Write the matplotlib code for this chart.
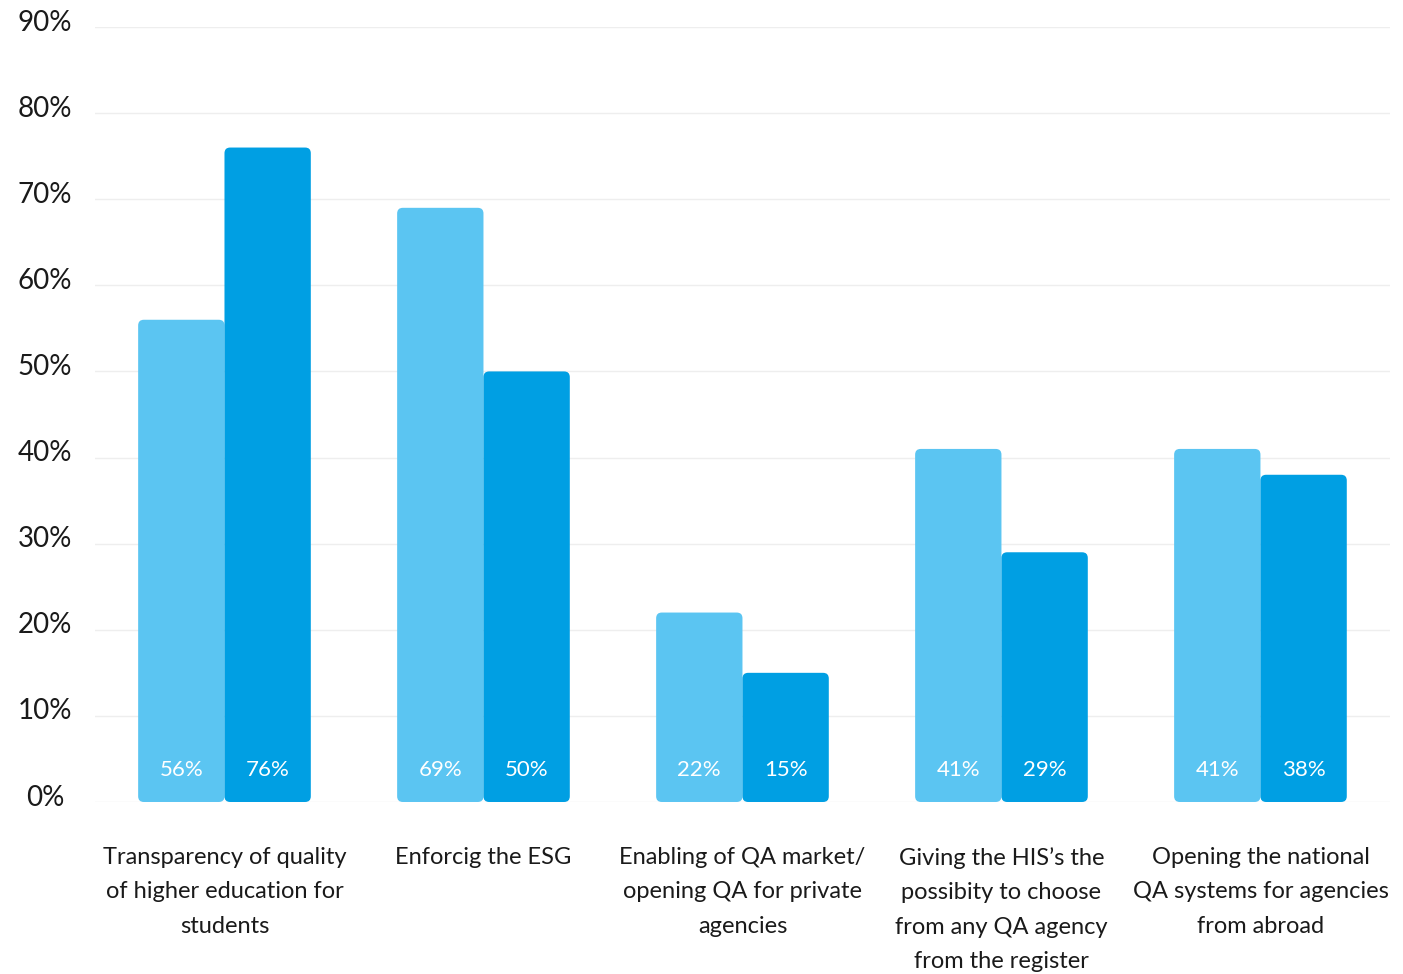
import numpy as np
import matplotlib.pyplot as plt
import matplotlib.transforms as mtransforms
from matplotlib.patches import FancyBboxPatch

categories = [
    "Transparency of quality\nof higher education for\nstudents",
    "Enforcig the ESG",
    "Enabling of QA market/\nopening QA for private\nagencies",
    "Giving the HIS\u2019s the\npossibity to choose\nfrom any QA agency\nfrom the register",
    "Opening the national\nQA systems for agencies\nfrom abroad",
]
series_a = [56, 69, 22, 41, 41]
series_b = [76, 50, 15, 29, 38]
yticks = [0, 10, 20, 30, 40, 50, 60, 70, 80, 90]

light = "#5BC5F2"
dark = "#009FE3"

plt.rcParams['font.family'] = ['Lato', 'DejaVu Sans']

fig = plt.figure(figsize=(14.03, 9.74), dpi=100)
ax = fig.add_axes([0.0677, 0.1766, 0.923, 0.7957])

x = np.arange(len(categories))
w = 1 / 3

bars_a = ax.bar(x - w / 2, series_a, w, color=light)
bars_b = ax.bar(x + w / 2, series_b, w, color=dark)

# swap the plain rectangles for rounded ones
for bars, col in [(bars_a, light), (bars_b, dark)]:
    for b in bars:
        b.set_visible(False)
        p = FancyBboxPatch((b.get_x(), b.get_y()), b.get_width(), b.get_height(),
                           boxstyle="round,pad=0,rounding_size=0.022",
                           mutation_aspect=30, facecolor=col, edgecolor="none",
                           zorder=3)
        ax.add_patch(p)

for xi, va, vb in zip(x, series_a, series_b):
    ax.text(xi - w / 2, 3.7, f"{va}%", color="white", ha="center", va="center",
            fontsize=16, zorder=4)
    ax.text(xi + w / 2, 3.7, f"{vb}%", color="white", ha="center", va="center",
            fontsize=16, zorder=4)

for xi, lab in zip(x, categories):
    ax.text(xi, -5.25, lab, ha="center", va="top", fontsize=17,
            linespacing=1.78, color="#1a1a1a")

ax.set_xlim(-0.5, 4.5)
ax.set_ylim(0, 90)
ax.set_xticks([])
ax.tick_params(axis="y", length=0, pad=36)
ax.set_yticks(yticks)
ax.set_yticklabels([f"{t}%" for t in yticks], fontsize=20, color="#1a1a1a",
                   ha="center")
# labels sit a little above their gridlines
shift = mtransforms.ScaledTranslation(0, 5 / 72, fig.dpi_scale_trans)
for lbl in ax.get_yticklabels():
    lbl.set_transform(lbl.get_transform() + shift)
ax.grid(axis="y", color="#eeeeee", linewidth=1)
ax.set_axisbelow(True)
for s in ax.spines.values():
    s.set_visible(False)

fig.savefig("out.png", dpi=100)
